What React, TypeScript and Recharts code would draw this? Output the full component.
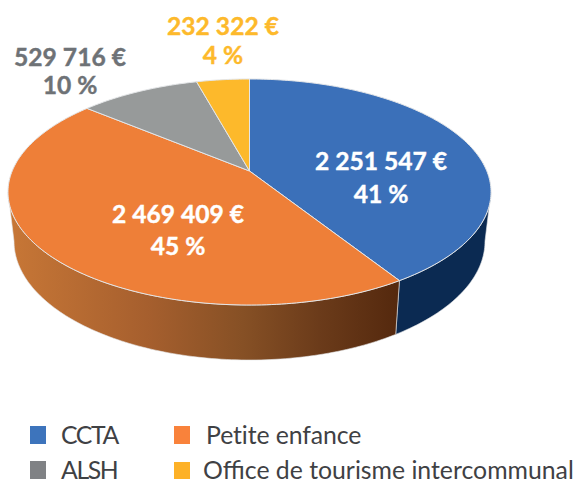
import { PieChart, Pie, Legend } from 'recharts';

const categories = ['CCTA', 'Petite enfance', 'ALSH', 'Office de tourisme intercommunal'];
const amounts = [2251547, 2469409, 529716, 232322];
const topColors = ['#3B70B9', '#EE7F38', '#979A9A', '#FDB92B'];
const sideColors = ['#0B2A52', 'url(#orangeSide)', '#6b6d6d', '#b5841f'];
const legendColors = ['#3D74BC', '#F9823B', '#808285', '#FDB127'];
const labelColors = ['#FFFFFF', '#FFFFFF', '#6E7276', '#FDB92B'];
const labelCenters = [
  [381, 170],
  [178, 223],
  [70, 66],
  [223, 35],
];
const labelGaps = [33, 32, 28, 29];
const legendSpots = [
  { box: [30, 426], text: [61, 435], spacing: -1.4 },
  { box: [174, 426], text: [206, 435], spacing: -0.1 },
  { box: [30, 461], text: [61, 470], spacing: -1.4 },
  { box: [174, 462], text: [203, 470], spacing: 0 },
];

const data = categories.map((name, i) => ({ name, value: amounts[i], fill: topColors[i] }));
const total = amounts.reduce((a, b) => a + b, 0);

const euro = (v: number) => String(v).replace(/\B(?=(\d{3})+$)/g, ' ') + ' €';

// perspective squash of the pie disc, the apex is not the centre of the ellipse
const TILT = 0.186;
const project = (cx: number, cy: number, r: number, angle: number, sx = 1, sy = 1, drop = 0) => {
  const t = (angle * Math.PI) / 180;
  const u = Math.cos(t);
  const v = Math.sin(t);
  const d = 1 + TILT * v;
  return [cx + (sx * r * 2.373 * u) / d, cy + drop - (sy * r * 1.091 * v) / d];
};

const arc = (from: number, to: number, fn: (a: number) => number[]) => {
  const pts: string[] = [];
  const steps = Math.max(2, Math.ceil(Math.abs(to - from)));
  for (let i = 0; i <= steps; i++) {
    const p = fn(from + ((to - from) * i) / steps);
    pts.push(`${p[0].toFixed(2)},${p[1].toFixed(2)}`);
  }
  return pts;
};

function Slice3D(props: any) {
  const { cx, cy, outerRadius, startAngle, endAngle, fill, index } = props;
  const top = (a: number) => project(cx, cy, outerRadius, a);
  const low = (a: number) => project(cx, cy, outerRadius, a, 0.975, 1.05, 48.3);

  // visible wall runs from -169.3 (left tangent) up to -10.7 (right tangent), math angles
  const hi = Math.min(startAngle, -10.7);
  const lo = Math.max(endAngle, -169.3);
  const wall = hi > lo ? [...arc(hi, lo, top), ...arc(lo, hi, low)].join(' ') : null;

  return (
    <g>
      <defs>
        <linearGradient id="orangeSide" gradientUnits="userSpaceOnUse" x1="14" y1="0" x2="396" y2="0">
          <stop offset="0" stopColor="#C67636" />
          <stop offset="0.35" stopColor="#A65F2E" />
          <stop offset="0.6" stopColor="#865025" />
          <stop offset="0.8" stopColor="#6B3B1A" />
          <stop offset="1" stopColor="#55290E" />
        </linearGradient>
      </defs>
      {wall && <polygon points={wall} fill={sideColors[index]} stroke="#E4E6E8" strokeWidth={0.6} />}
      <polygon
        points={[`${cx},${cy}`, ...arc(startAngle, endAngle, top)].join(' ')}
        fill={fill}
        stroke="#E4E6E8"
        strokeWidth={1}
      />
    </g>
  );
}

function SliceLabel(props: any) {
  const { index, value } = props;
  const [x, y] = labelCenters[index];
  const style = { fontFamily: 'Lato', fontWeight: 700, fontSize: 24.6 };
  return (
    <g fill={labelColors[index]} stroke={labelColors[index]} strokeWidth={0.4} style={style} textAnchor="middle">
      <text x={x} y={y}>{euro(value)}</text>
      <text x={x} y={y + labelGaps[index]}>{`${Math.round((value / total) * 100)} %`}</text>
    </g>
  );
}

function LegendBlock() {
  return (
    <div style={{ position: 'relative', width: 576, height: 479 }}>
      {categories.map((name, i) => (
        <div key={name}>
          <div
            style={{
              position: 'absolute',
              left: legendSpots[i].box[0],
              top: legendSpots[i].box[1],
              width: 16,
              height: 18,
              background: legendColors[i],
            }}
          />
          <div
            style={{
              position: 'absolute',
              left: legendSpots[i].text[0],
              top: legendSpots[i].text[1] - 9,
              lineHeight: '18px',
              fontFamily: 'Lato',
              fontSize: 24.8,
              letterSpacing: legendSpots[i].spacing,
              color: '#3F4144',
              whiteSpace: 'nowrap',
            }}
          >
            {name}
          </div>
        </div>
      ))}
    </div>
  );
}

export default function App() {
  return (
    <div style={{ position: 'absolute', left: 0, top: 0, width: 576, height: 479, overflow: 'hidden' }}>
      <PieChart width={576} height={479} margin={{ top: 0, right: 0, bottom: 0, left: 0 }}>
        <Pie
          data={data}
          dataKey="value"
          nameKey="name"
          cx={249.5}
          cy={171}
          outerRadius={100}
          startAngle={90}
          endAngle={-270}
          shape={Slice3D}
          label={SliceLabel}
          labelLine={false}
          isAnimationActive={false}
        />
        <Legend
          content={LegendBlock}
          wrapperStyle={{ position: 'absolute', left: 0, top: 0, width: 576, height: 479, pointerEvents: 'none' }}
        />
      </PieChart>
    </div>
  );
}
